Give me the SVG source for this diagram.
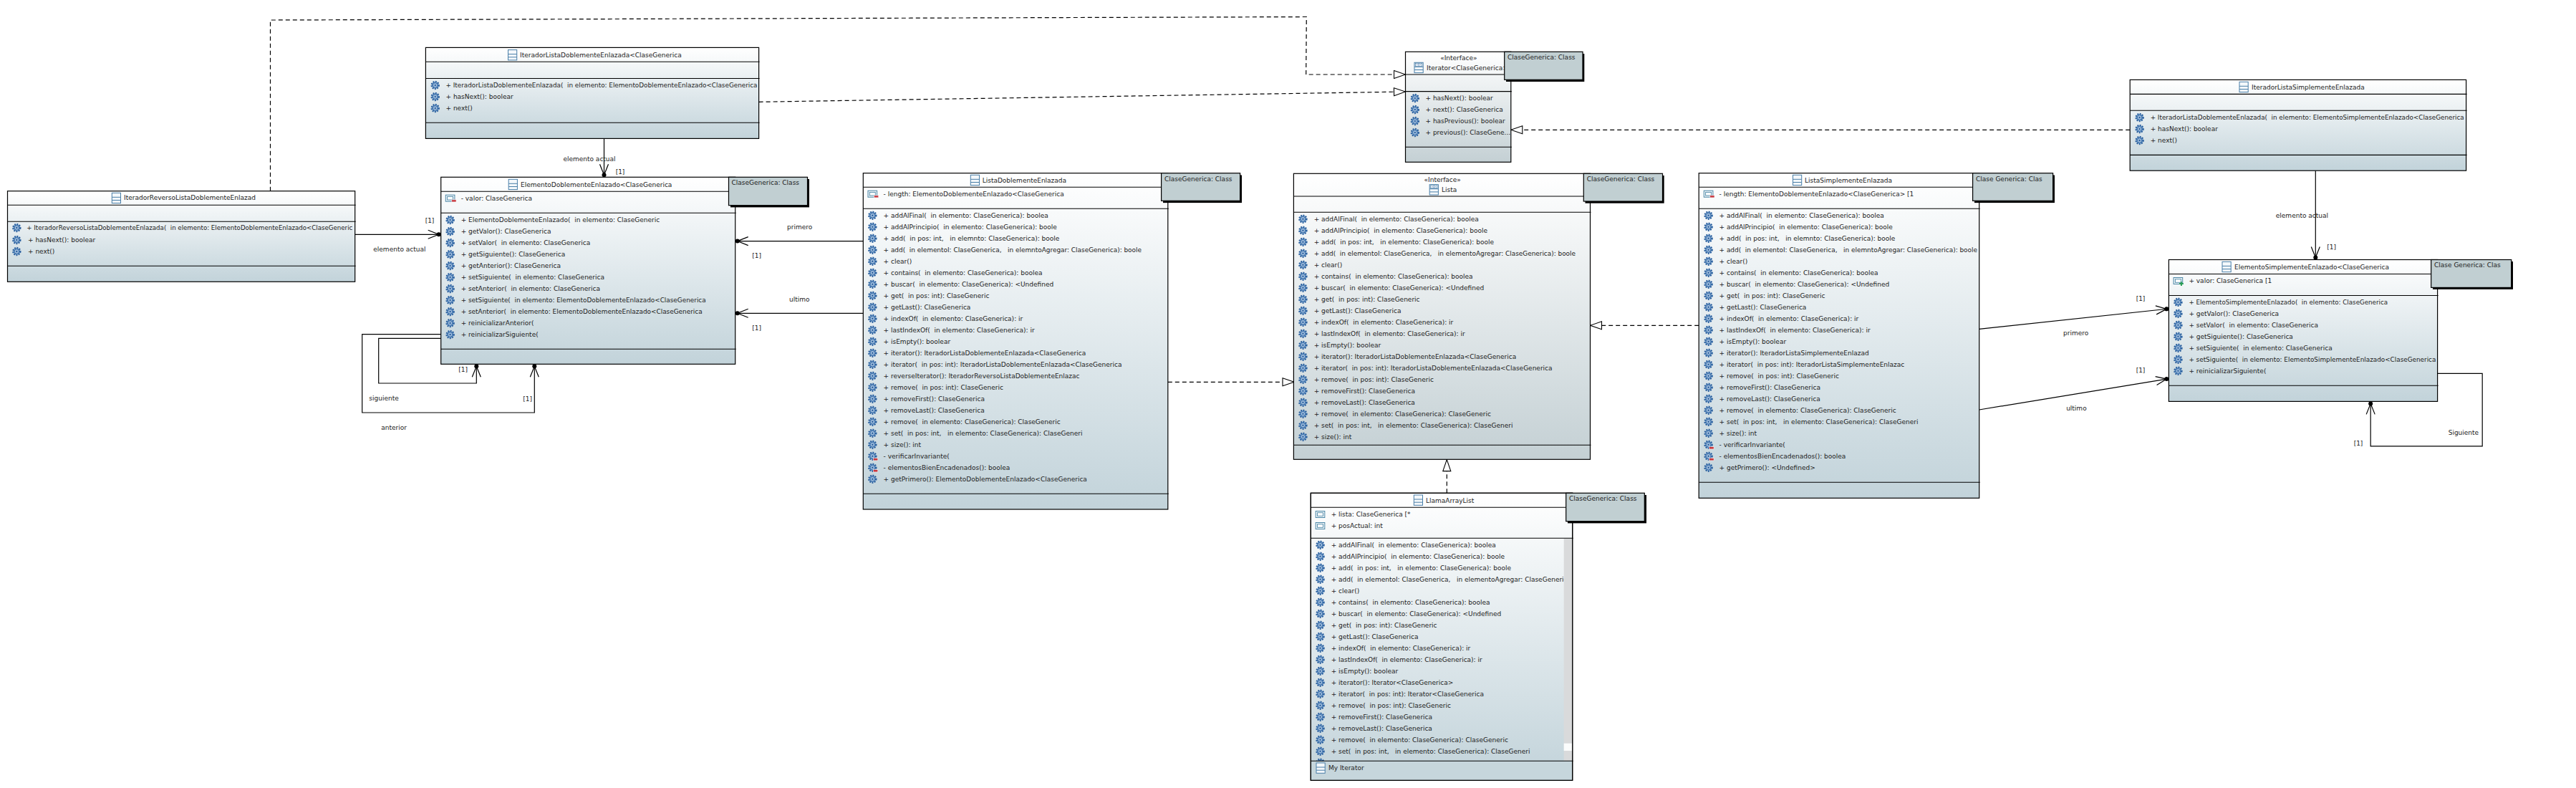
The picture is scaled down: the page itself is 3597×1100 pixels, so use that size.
<svg xmlns="http://www.w3.org/2000/svg" width="3597" height="1100" viewBox="0 0 3597 1100">
<style>
text{font-family:"DejaVu Sans","Liberation Sans",sans-serif;font-size:9px;fill:#222;white-space:pre}
.box{stroke:#000;stroke-width:1.2}
.cls{fill:url(#gc)}
.ifc{fill:url(#gi)}
.sep{stroke:#000;stroke-width:1.1;fill:none}
.note{fill:#c1cfd2;stroke:#000;stroke-width:1.2}
.shadow{fill:#000}
.m{text-anchor:middle}
.con{fill:none;stroke:#000;stroke-width:1.2}
.dash{fill:none;stroke:#000;stroke-width:1.2;stroke-dasharray:6 4}
.as{marker-end:url(#assoc)}
.ge{marker-end:url(#gen)}
</style>
<defs>
<linearGradient id="gc" x1="0" y1="0" x2="0" y2="1"><stop offset="0" stop-color="#ffffff"/><stop offset="1" stop-color="#c2d3da"/></linearGradient>
<linearGradient id="gi" x1="0" y1="0" x2="0" y2="1"><stop offset="0" stop-color="#ffffff"/><stop offset="1" stop-color="#c4d0d4"/></linearGradient>
<marker id="assoc" markerUnits="userSpaceOnUse" markerWidth="24" markerHeight="16" viewBox="0 0 24 16" refX="22" refY="8" orient="auto"><path d="M4,2 L19,8 L4,14" fill="none" stroke="#000" stroke-width="1.2"/><circle cx="19" cy="8" r="3" fill="#000"/></marker>
<marker id="gen" markerUnits="userSpaceOnUse" markerWidth="18" markerHeight="14" viewBox="0 0 18 14" refX="17" refY="7" orient="auto"><path d="M1,1.5 L17,7 L1,12.5 Z" fill="#fff" stroke="#000" stroke-width="1.1"/></marker>
<g id="g"><circle r="5" fill="#7ba3cc" stroke="#2a5f9e" stroke-width="2.4" stroke-dasharray="1.8 1.5"/><circle r="3.2" fill="#a9c4e0" stroke="#2f66a6" stroke-width=".9"/><circle r="1.2" fill="#2a5f9e"/></g>
<g id="gp"><use href="#g"/><rect x="1" y="3" width="6.5" height="3.2" fill="#c8363c" stroke="#fff" stroke-width=".5"/></g>
<g id="attr"><rect x="-6.3" y="-4.5" width="12.6" height="9" fill="#f2f7fa" stroke="#4a86a6" stroke-width="1"/><rect x="-4" y="-2.3" width="8" height="4.6" fill="#fff" stroke="#4a86a6" stroke-width=".9"/></g>
<g id="attrp"><use href="#attr"/><rect x="2.2" y="2.2" width="6.2" height="3" fill="#c8363c" stroke="#fff" stroke-width=".5"/></g>
<g id="attrg"><use href="#attr"/><path d="M4.5,1.2 V7 M1.6,4.1 H7.4" stroke="#2a9d57" stroke-width="2" fill="none"/></g>
<g id="ci"><rect width="12.2" height="14.3" fill="#f4f8fb" stroke="#4a7fa8" stroke-width="1"/><path d="M0,6 H12.2 M0,10.2 H12.2" stroke="#4a7fa8" stroke-width="1"/></g>
<g id="ii"><use href="#ci"/><rect x="1.5" y="1" width="9.2" height="4" fill="#fff" stroke="#4a7fa8" stroke-width=".7"/><path d="M6.1,1.5 V4.5 M4.4,3 L3,3 M7.8,3 L9.2,3" stroke="#2a5f9e" stroke-width=".8"/></g>
</defs>

<g id="connectors">
<polyline class="dash ge" points="377.5,266.7 377.5,28 1824.3,23.5 1823.7,104 1962.5,104"/>
<line class="dash ge" x1="1059.6" y1="142.3" x2="1962.5" y2="128"/>
<line class="dash ge" x1="2974.2" y1="181.3" x2="2109.8" y2="181.3"/>
<line class="dash ge" x1="1630.8" y1="533.3" x2="1807" y2="533.3"/>
<line class="dash ge" x1="2372.2" y1="454.3" x2="2220.5" y2="454.3"/>
<line class="dash ge" x1="2020.3" y1="688.3" x2="2020.3" y2="641.6"/>
<line class="con as" x1="843.5" y1="193.4" x2="843.5" y2="247.3"/>
<line class="con as" x1="495.7" y1="327.3" x2="615.7" y2="327.3"/>
<line class="con as" x1="1205.3" y1="336.6" x2="1026.7" y2="336.6"/>
<line class="con as" x1="1205.3" y1="437.3" x2="1026.7" y2="437.3"/>
<polyline class="con as" points="615.7,472.3 528.7,472.3 528.7,535 665.3,535 665.3,508.3"/>
<polyline class="con as" points="615.7,466.7 505.7,466.7 505.7,576 746.3,576 746.3,508.3"/>
<line class="con as" x1="3233.3" y1="238.2" x2="3233.3" y2="362.5"/>
<line class="con as" x1="2763.7" y1="459.3" x2="3028.4" y2="431"/>
<line class="con as" x1="2763.7" y1="572" x2="3028.4" y2="528.6"/>
<polyline class="con as" points="3403.6,521.4 3466.2,521.4 3466.2,622.9 3310.2,622.9 3310.2,560.4"/>
<text class="m" x="823" y="225">elemento actual</text>
<text class="m" x="866" y="243">[1]</text>
<text x="521.3" y="351">elemento actual</text>
<text class="m" x="600" y="311">[1]</text>
<text class="m" x="1116.7" y="320">primero</text>
<text class="m" x="1056.7" y="360">[1]</text>
<text class="m" x="1116.3" y="421">ultimo</text>
<text class="m" x="1056.7" y="461">[1]</text>
<text class="m" x="646.7" y="518.5">[1]</text>
<text x="515.3" y="559">siguiente</text>
<text class="m" x="736.7" y="560">[1]</text>
<text x="532.3" y="600">anterior</text>
<text x="3177.8" y="304">elemento actual</text>
<text class="m" x="3255.6" y="348">[1]</text>
<text class="m" x="2898.7" y="468">primero</text>
<text class="m" x="2899.4" y="573">ultimo</text>
<text class="m" x="2989" y="420">[1]</text>
<text class="m" x="2989" y="520">[1]</text>
<text x="3418.7" y="607">Siguiente</text>
<text class="m" x="3293" y="622">[1]</text>
</g>

<g id="IteradorReversoListaDoblementeEnlazada">
<rect class="box cls" x="10.5" y="266.7" width="485.2" height="126.6"/>
<path class="sep" d="M10.5,286.3 H496.7 M10.5,309.3 H496.7 M10.5,371.3 H496.7"/>
<use href="#ci" x="156.3" y="269.3"/><text x="173" y="279">IteradorReversoListaDoblementeEnlazad</text>
<use href="#g" x="23.3" y="318"/><text x="37.3" y="320.7" textLength="455" lengthAdjust="spacingAndGlyphs">+ IteradorReversoListaDoblementeEnlazada(  in elemento: ElementoDoblementeEnlazado&lt;ClaseGeneric</text>
<use href="#g" x="23.3" y="335"/><text x="39" y="337.7">+ hasNext(): boolear</text>
<use href="#g" x="23.3" y="351"/><text x="39" y="353.7">+ next()</text>
</g>

<g id="IteradorListaDoblementeEnlazada">
<rect class="box cls" x="594.4" y="66.4" width="465.2" height="127"/>
<path class="sep" d="M594.4,86.2 H1060.6 M594.4,109.5 H1060.6 M594.4,171.2 H1060.6"/>
<use href="#ci" x="709.5" y="69.6"/><text x="726" y="80">IteradorListaDoblementeEnlazada&lt;ClaseGenerica</text>
<use href="#g" x="607.7" y="119"/><text x="622.5" y="122" textLength="435" lengthAdjust="spacingAndGlyphs">+ IteradorListaDoblementeEnlazada(  in elemento: ElementoDoblementeEnlazado&lt;ClaseGenerica</text>
<use href="#g" x="607.7" y="135"/><text x="622.5" y="138">+ hasNext(): boolear</text>
<use href="#g" x="607.7" y="151"/><text x="622.5" y="154">+ next()</text>
</g>

<g id="ElementoDoblementeEnlazado">
<rect class="box cls" x="615.7" y="247.3" width="411" height="261"/>
<path class="sep" d="M615.7,267.3 H1017 M615.7,297.3 H1027.7 M615.7,487.3 H1027.7"/>
<use href="#ci" x="710.2" y="250.3"/><text x="727" y="261">ElementoDoblementeEnlazado&lt;ClaseGenerica</text>
<use href="#attrp" x="628.6" y="276.7"/><text x="643.7" y="279.7">- valor: ClaseGenerica</text>
<use href="#g" x="628.6" y="307"/><text x="643.7" y="310">+ ElementoDoblementeEnlazado(  in elemento: ClaseGeneric</text>
<use href="#g" x="628.6" y="323"/><text x="643.7" y="326">+ getValor(): ClaseGenerica</text>
<use href="#g" x="628.6" y="339"/><text x="643.7" y="342">+ setValor(  in elemento: ClaseGenerica</text>
<use href="#g" x="628.6" y="355"/><text x="643.7" y="358">+ getSiguiente(): ClaseGenerica</text>
<use href="#g" x="628.6" y="371"/><text x="643.7" y="374">+ getAnterior(): ClaseGenerica</text>
<use href="#g" x="628.6" y="387"/><text x="643.7" y="390">+ setSiguiente(  in elemento: ClaseGenerica</text>
<use href="#g" x="628.6" y="403"/><text x="643.7" y="406">+ setAnterior(  in elemento: ClaseGenerica</text>
<use href="#g" x="628.6" y="419"/><text x="643.7" y="422" textLength="342" lengthAdjust="spacingAndGlyphs">+ setSiguiente(  in elemento: ElementoDoblementeEnlazado&lt;ClaseGenerica</text>
<use href="#g" x="628.6" y="435"/><text x="643.7" y="438" textLength="337" lengthAdjust="spacingAndGlyphs">+ setAnterior(  in elemento: ElementoDoblementeEnlazado&lt;ClaseGenerica</text>
<use href="#g" x="628.6" y="451"/><text x="643.7" y="454">+ reinicializarAnterior(</text>
<use href="#g" x="628.6" y="467"/><text x="643.7" y="470">+ reinicializarSiguiente(</text>
<rect class="shadow" x="1020" y="250" width="110" height="39.4"/>
<rect class="note" x="1017.5" y="247.3" width="110" height="39.4"/>
<text x="1021.5" y="258">ClaseGenerica: Class</text>
</g>

<g id="ListaDoblementeEnlazada">
<rect class="box cls" x="1205.3" y="241.7" width="425.5" height="469.3"/>
<path class="sep" d="M1205.3,261.3 H1622 M1205.3,291.3 H1631.8 M1205.3,689.3 H1631.8"/>
<use href="#ci" x="1355.3" y="244.3"/><text x="1371.7" y="255">ListaDoblementeEnlazada</text>
<use href="#attrp" x="1218.3" y="270.7"/><text x="1233.6" y="273.7">- length: ElementoDoblementeEnlazado&lt;ClaseGenerica</text>
<use href="#g" x="1218.3" y="300.7"/><text x="1233.6" y="303.7">+ addAlFinal(  in elemento: ClaseGenerica): boolea</text>
<use href="#g" x="1218.3" y="316.7"/><text x="1233.6" y="319.7">+ addAlPrincipio(  in elemento: ClaseGenerica): boole</text>
<use href="#g" x="1218.3" y="332.7"/><text x="1233.6" y="335.7">+ add(  in pos: int,   in elemnto: ClaseGenerica): boole</text>
<use href="#g" x="1218.3" y="348.7"/><text x="1233.6" y="351.7" textLength="360.4" lengthAdjust="spacingAndGlyphs">+ add(  in elementoI: ClaseGenerica,   in elemntoAgregar: ClaseGenerica): boole</text>
<use href="#g" x="1218.3" y="364.7"/><text x="1233.6" y="367.7">+ clear()</text>
<use href="#g" x="1218.3" y="380.7"/><text x="1233.6" y="383.7">+ contains(  in elemento: ClaseGenerica): boolea</text>
<use href="#g" x="1218.3" y="396.7"/><text x="1233.6" y="399.7">+ buscar(  in elemento: ClaseGenerica): &lt;Undefined</text>
<use href="#g" x="1218.3" y="412.7"/><text x="1233.6" y="415.7">+ get(  in pos: int): ClaseGeneric</text>
<use href="#g" x="1218.3" y="428.7"/><text x="1233.6" y="431.7">+ getLast(): ClaseGenerica</text>
<use href="#g" x="1218.3" y="444.7"/><text x="1233.6" y="447.7">+ indexOf(  in elemento: ClaseGenerica): ir</text>
<use href="#g" x="1218.3" y="460.7"/><text x="1233.6" y="463.7">+ lastIndexOf(  in elemento: ClaseGenerica): ir</text>
<use href="#g" x="1218.3" y="476.7"/><text x="1233.6" y="479.7">+ isEmpty(): boolear</text>
<use href="#g" x="1218.3" y="492.7"/><text x="1233.6" y="495.7">+ iterator(): IteradorListaDoblementeEnlazada&lt;ClaseGenerica</text>
<use href="#g" x="1218.3" y="508.7"/><text x="1233.6" y="511.7">+ iterator(  in pos: int): IteradorListaDoblementeEnlazada&lt;ClaseGenerica</text>
<use href="#g" x="1218.3" y="524.7"/><text x="1233.6" y="527.7">+ reverseIterator(): IteradorReversoListaDoblementeEnlazac</text>
<use href="#g" x="1218.3" y="540.7"/><text x="1233.6" y="543.7">+ remove(  in pos: int): ClaseGeneric</text>
<use href="#g" x="1218.3" y="556.7"/><text x="1233.6" y="559.7">+ removeFirst(): ClaseGenerica</text>
<use href="#g" x="1218.3" y="572.7"/><text x="1233.6" y="575.7">+ removeLast(): ClaseGenerica</text>
<use href="#g" x="1218.3" y="588.7"/><text x="1233.6" y="591.7">+ remove(  in elemento: ClaseGenerica): ClaseGeneric</text>
<use href="#g" x="1218.3" y="604.7"/><text x="1233.6" y="607.7">+ set(  in pos: int,   in elemento: ClaseGenerica): ClaseGeneri</text>
<use href="#g" x="1218.3" y="620.7"/><text x="1233.6" y="623.7">+ size(): int</text>
<use href="#gp" x="1218.3" y="636.7"/><text x="1233.6" y="639.7">- verificarInvariante(</text>
<use href="#gp" x="1218.3" y="652.7"/><text x="1233.6" y="655.7">- elementosBienEncadenados(): boolea</text>
<use href="#g" x="1218.3" y="668.7"/><text x="1233.6" y="671.7">+ getPrimero(): ElementoDoblementeEnlazado&lt;ClaseGenerica</text>
<rect class="shadow" x="1624" y="244.5" width="110" height="38.6"/>
<rect class="note" x="1621.6" y="241.7" width="110" height="38.6"/>
<text x="1626" y="252.5">ClaseGenerica: Class</text>
</g>

<g id="Lista">
<rect class="box ifc" x="1806.4" y="242.3" width="414.1" height="399"/>
<path class="sep" d="M1806.4,274 H2212 M1806.4,296.3 H2221.5 M1806.4,621.3 H2221.5"/>
<text class="m" x="2014.2" y="254">«Interface»</text>
<use href="#ii" x="1996.2" y="257.7"/><text x="2013" y="268">Lista</text>
<use href="#g" x="1819.4" y="305.7"/><text x="1834.7" y="308.7">+ addAlFinal(  in elemento: ClaseGenerica): boolea</text>
<use href="#g" x="1819.4" y="321.7"/><text x="1834.7" y="324.7">+ addAlPrincipio(  in elemento: ClaseGenerica): boole</text>
<use href="#g" x="1819.4" y="337.7"/><text x="1834.7" y="340.7">+ add(  in pos: int,   in elemento: ClaseGenerica): boole</text>
<use href="#g" x="1819.4" y="353.7"/><text x="1834.7" y="356.7" textLength="365.3" lengthAdjust="spacingAndGlyphs">+ add(  in elementoI: ClaseGenerica,   in elementoAgregar: ClaseGenerica): boole</text>
<use href="#g" x="1819.4" y="369.7"/><text x="1834.7" y="372.7">+ clear()</text>
<use href="#g" x="1819.4" y="385.7"/><text x="1834.7" y="388.7">+ contains(  in elemento: ClaseGenerica): boolea</text>
<use href="#g" x="1819.4" y="401.7"/><text x="1834.7" y="404.7">+ buscar(  in elemento: ClaseGenerica): &lt;Undefined</text>
<use href="#g" x="1819.4" y="417.7"/><text x="1834.7" y="420.7">+ get(  in pos: int): ClaseGeneric</text>
<use href="#g" x="1819.4" y="433.7"/><text x="1834.7" y="436.7">+ getLast(): ClaseGenerica</text>
<use href="#g" x="1819.4" y="449.7"/><text x="1834.7" y="452.7">+ indexOf(  in elemento: ClaseGenerica): ir</text>
<use href="#g" x="1819.4" y="465.7"/><text x="1834.7" y="468.7">+ lastIndexOf(  in elemento: ClaseGenerica): ir</text>
<use href="#g" x="1819.4" y="481.7"/><text x="1834.7" y="484.7">+ isEmpty(): boolear</text>
<use href="#g" x="1819.4" y="497.7"/><text x="1834.7" y="500.7">+ iterator(): IteradorListaDoblementeEnlazada&lt;ClaseGenerica</text>
<use href="#g" x="1819.4" y="513.7"/><text x="1834.7" y="516.7">+ iterator(  in pos: int): IteradorListaDoblementeEnlazada&lt;ClaseGenerica</text>
<use href="#g" x="1819.4" y="529.7"/><text x="1834.7" y="532.7">+ remove(  in pos: int): ClaseGeneric</text>
<use href="#g" x="1819.4" y="545.7"/><text x="1834.7" y="548.7">+ removeFirst(): ClaseGenerica</text>
<use href="#g" x="1819.4" y="561.7"/><text x="1834.7" y="564.7">+ removeLast(): ClaseGenerica</text>
<use href="#g" x="1819.4" y="577.7"/><text x="1834.7" y="580.7">+ remove(  in elemento: ClaseGenerica): ClaseGeneric</text>
<use href="#g" x="1819.4" y="593.7"/><text x="1834.7" y="596.7">+ set(  in pos: int,   in elemento: ClaseGenerica): ClaseGeneri</text>
<use href="#g" x="1819.4" y="609.7"/><text x="1834.7" y="612.7">+ size(): int</text>
<rect class="shadow" x="2213.5" y="245" width="110.2" height="38.7"/>
<rect class="note" x="2211.3" y="242.3" width="110.2" height="38.7"/>
<text x="2215.8" y="253">ClaseGenerica: Class</text>
</g>

<g id="ListaSimplementeEnlazada">
<rect class="box cls" x="2372.2" y="241.7" width="391.5" height="453.6"/>
<path class="sep" d="M2372.2,261.3 H2755 M2372.2,291.3 H2764.7 M2372.2,673.3 H2764.7"/>
<use href="#ci" x="2503.5" y="244.3"/><text x="2520" y="255">ListaSimplementeEnlazada</text>
<use href="#attrp" x="2385.6" y="270.7"/><text x="2400.6" y="273.7">- length: ElementoDoblementeEnlazado&lt;ClaseGenerica&gt; [1</text>
<use href="#g" x="2385.6" y="300.7"/><text x="2400.6" y="303.7">+ addAlFinal(  in elemento: ClaseGenerica): boolea</text>
<use href="#g" x="2385.6" y="316.7"/><text x="2400.6" y="319.7">+ addAlPrincipio(  in elemento: ClaseGenerica): boole</text>
<use href="#g" x="2385.6" y="332.7"/><text x="2400.6" y="335.7">+ add(  in pos: int,   in elemnto: ClaseGenerica): boole</text>
<use href="#g" x="2385.6" y="348.7"/><text x="2400.6" y="351.7" textLength="360.4" lengthAdjust="spacingAndGlyphs">+ add(  in elementoI: ClaseGenerica,   in elemntoAgregar: ClaseGenerica): boole</text>
<use href="#g" x="2385.6" y="364.7"/><text x="2400.6" y="367.7">+ clear()</text>
<use href="#g" x="2385.6" y="380.7"/><text x="2400.6" y="383.7">+ contains(  in elemento: ClaseGenerica): boolea</text>
<use href="#g" x="2385.6" y="396.7"/><text x="2400.6" y="399.7">+ buscar(  in elemento: ClaseGenerica): &lt;Undefined</text>
<use href="#g" x="2385.6" y="412.7"/><text x="2400.6" y="415.7">+ get(  in pos: int): ClaseGeneric</text>
<use href="#g" x="2385.6" y="428.7"/><text x="2400.6" y="431.7">+ getLast(): ClaseGenerica</text>
<use href="#g" x="2385.6" y="444.7"/><text x="2400.6" y="447.7">+ indexOf(  in elemento: ClaseGenerica): ir</text>
<use href="#g" x="2385.6" y="460.7"/><text x="2400.6" y="463.7">+ lastIndexOf(  in elemento: ClaseGenerica): ir</text>
<use href="#g" x="2385.6" y="476.7"/><text x="2400.6" y="479.7">+ isEmpty(): boolear</text>
<use href="#g" x="2385.6" y="492.7"/><text x="2400.6" y="495.7">+ iterator(): IteradorListaSimplementeEnlazad</text>
<use href="#g" x="2385.6" y="508.7"/><text x="2400.6" y="511.7">+ iterator(  in pos: int): IteradorListaSimplementeEnlazac</text>
<use href="#g" x="2385.6" y="524.7"/><text x="2400.6" y="527.7">+ remove(  in pos: int): ClaseGeneric</text>
<use href="#g" x="2385.6" y="540.7"/><text x="2400.6" y="543.7">+ removeFirst(): ClaseGenerica</text>
<use href="#g" x="2385.6" y="556.7"/><text x="2400.6" y="559.7">+ removeLast(): ClaseGenerica</text>
<use href="#g" x="2385.6" y="572.7"/><text x="2400.6" y="575.7">+ remove(  in elemento: ClaseGenerica): ClaseGeneric</text>
<use href="#g" x="2385.6" y="588.7"/><text x="2400.6" y="591.7">+ set(  in pos: int,   in elemento: ClaseGenerica): ClaseGeneri</text>
<use href="#g" x="2385.6" y="604.7"/><text x="2400.6" y="607.7">+ size(): int</text>
<use href="#gp" x="2385.6" y="620.7"/><text x="2400.6" y="623.7">- verificarInvariante(</text>
<use href="#gp" x="2385.6" y="636.7"/><text x="2400.6" y="639.7">- elementosBienEncadenados(): boolea</text>
<use href="#g" x="2385.6" y="652.7"/><text x="2400.6" y="655.7">+ getPrimero(): &lt;Undefined&gt;</text>
<rect class="shadow" x="2757" y="244.5" width="112" height="38.6"/>
<rect class="note" x="2754.6" y="241.7" width="112" height="38.6"/>
<text x="2759" y="252.5">Clase Generica: Clas</text>
</g>

<g id="LlamaArrayList">
<rect class="box cls" x="1830.3" y="688.3" width="365.4" height="401"/>
<use href="#ci" x="1974.3" y="691"/><text x="1991" y="702">LlamaArrayList</text>
<use href="#attr" x="1843.5" y="718"/><text x="1858.7" y="720.7">+ lista: ClaseGenerica [*</text>
<use href="#attr" x="1843.5" y="734"/><text x="1858.7" y="736.7">+ posActual: int</text>
<use href="#g" x="1843.5" y="760.7"/><text x="1858.7" y="763.7">+ addAlFinal(  in elemento: ClaseGenerica): boolea</text>
<use href="#g" x="1843.5" y="776.7"/><text x="1858.7" y="779.7">+ addAlPrincipio(  in elemento: ClaseGenerica): boole</text>
<use href="#g" x="1843.5" y="792.7"/><text x="1858.7" y="795.7">+ add(  in pos: int,   in elemento: ClaseGenerica): boole</text>
<use href="#g" x="1843.5" y="808.7"/><text x="1858.7" y="811.7">+ add(  in elementoI: ClaseGenerica,   in elementoAgregar: ClaseGeneric</text>
<use href="#g" x="1843.5" y="824.7"/><text x="1858.7" y="827.7">+ clear()</text>
<use href="#g" x="1843.5" y="840.7"/><text x="1858.7" y="843.7">+ contains(  in elemento: ClaseGenerica): boolea</text>
<use href="#g" x="1843.5" y="856.7"/><text x="1858.7" y="859.7">+ buscar(  in elemento: ClaseGenerica): &lt;Undefined</text>
<use href="#g" x="1843.5" y="872.7"/><text x="1858.7" y="875.7">+ get(  in pos: int): ClaseGeneric</text>
<use href="#g" x="1843.5" y="888.7"/><text x="1858.7" y="891.7">+ getLast(): ClaseGenerica</text>
<use href="#g" x="1843.5" y="904.7"/><text x="1858.7" y="907.7">+ indexOf(  in elemento: ClaseGenerica): ir</text>
<use href="#g" x="1843.5" y="920.7"/><text x="1858.7" y="923.7">+ lastIndexOf(  in elemento: ClaseGenerica): ir</text>
<use href="#g" x="1843.5" y="936.7"/><text x="1858.7" y="939.7">+ isEmpty(): boolear</text>
<use href="#g" x="1843.5" y="952.7"/><text x="1858.7" y="955.7">+ iterator(): Iterator&lt;ClaseGenerica&gt;</text>
<use href="#g" x="1843.5" y="968.7"/><text x="1858.7" y="971.7">+ iterator(  in pos: int): Iterator&lt;ClaseGenerica</text>
<use href="#g" x="1843.5" y="984.7"/><text x="1858.7" y="987.7">+ remove(  in pos: int): ClaseGeneric</text>
<use href="#g" x="1843.5" y="1000.7"/><text x="1858.7" y="1003.7">+ removeFirst(): ClaseGenerica</text>
<use href="#g" x="1843.5" y="1016.7"/><text x="1858.7" y="1019.7">+ removeLast(): ClaseGenerica</text>
<use href="#g" x="1843.5" y="1032.7"/><text x="1858.7" y="1035.7">+ remove(  in elemento: ClaseGenerica): ClaseGeneric</text>
<use href="#g" x="1843.5" y="1048.7"/><text x="1858.7" y="1051.7">+ set(  in pos: int,   in elemento: ClaseGenerica): ClaseGeneri</text>
<use href="#g" x="1843.5" y="1064.7"/>
<rect x="2183.7" y="751.3" width="12" height="311" fill="#d9dadb"/>
<rect x="2183.7" y="1037.7" width="12" height="10.3" fill="#fbfcfc"/>
<rect x="1830.9" y="1062.3" width="364.2" height="26.4" fill="#c6d6dc"/>
<path class="sep" d="M1830.3,708.3 H2187 M1830.3,751.3 H2196.7 M1830.3,1062.3 H2196.7"/>
<rect x="1830.3" y="688.3" width="365.4" height="401" fill="none" stroke="#000" stroke-width="1.2"/>
<use href="#ci" x="1838" y="1065"/><text x="1855" y="1075">My Iterator</text>
<rect class="shadow" x="2189" y="691" width="110" height="39.4"/>
<rect class="note" x="2186.7" y="688.3" width="109.6" height="39.4"/>
<text x="2191" y="699">ClaseGenerica: Class</text>
</g>

<g id="Iterator">
<rect class="box ifc" x="1962.5" y="72.3" width="147.3" height="154"/>
<path class="sep" d="M1962.5,104 H2101 M1962.5,127.6 H2110.8 M1962.5,205.3 H2110.8"/>
<text class="m" x="2036.8" y="84">«Interface»</text>
<use href="#ii" x="1975" y="87.3"/><text x="1992" y="98">Iterator&lt;ClaseGenerica&gt;</text>
<use href="#g" x="1975.8" y="137"/><text x="1990.5" y="140">+ hasNext(): boolear</text>
<use href="#g" x="1975.8" y="153"/><text x="1990.5" y="156">+ next(): ClaseGenerica</text>
<use href="#g" x="1975.8" y="169"/><text x="1990.5" y="172">+ hasPrevious(): boolear</text>
<use href="#g" x="1975.8" y="185"/><text x="1990.5" y="188">+ previous(): ClaseGene...</text>
<rect class="shadow" x="2103" y="75" width="109.3" height="39"/>
<rect class="note" x="2100.7" y="72.3" width="109.3" height="39"/>
<text x="2105" y="83">ClaseGenerica: Class</text>
</g>

<g id="IteradorListaSimplementeEnlazada">
<rect class="box cls" x="2974.2" y="111.4" width="469.4" height="126.8"/>
<path class="sep" d="M2974.2,131.4 H3444.6 M2974.2,154.3 H3444.6 M2974.2,216.4 H3444.6"/>
<use href="#ci" x="3127" y="114.3"/><text x="3144" y="125">IteradorListaSimplementeEnlazada</text>
<use href="#g" x="2987.6" y="164"/><text x="3002.7" y="167" textLength="438" lengthAdjust="spacingAndGlyphs">+ IteradorListaDoblementeEnlazada(  in elemento: ElementoSimplementeEnlazado&lt;ClaseGenerica</text>
<use href="#g" x="2987.6" y="180"/><text x="3002.7" y="183">+ hasNext(): boolear</text>
<use href="#g" x="2987.6" y="196"/><text x="3002.7" y="199">+ next()</text>
</g>

<g id="ElementoSimplementeEnlazado">
<rect class="box cls" x="3028.4" y="362.5" width="375.2" height="197.9"/>
<path class="sep" d="M3028.4,382.5 H3395 M3028.4,412.5 H3404.6 M3028.4,538.2 H3404.6"/>
<use href="#ci" x="3103" y="365.4"/><text x="3120" y="376">ElementoSimplementeEnlazado&lt;ClaseGenerica</text>
<use href="#attrg" x="3041.4" y="392"/><text x="3056.4" y="395">+ valor: ClaseGenerica [1</text>
<use href="#g" x="3041.4" y="421.8"/><text x="3056.4" y="424.8" textLength="277.6" lengthAdjust="spacingAndGlyphs">+ ElementoSimplementeEnlazado(  in elemento: ClaseGenerica</text>
<use href="#g" x="3041.4" y="437.8"/><text x="3056.4" y="440.8">+ getValor(): ClaseGenerica</text>
<use href="#g" x="3041.4" y="453.8"/><text x="3056.4" y="456.8">+ setValor(  in elemento: ClaseGenerica</text>
<use href="#g" x="3041.4" y="469.8"/><text x="3056.4" y="472.8">+ getSiguiente(): ClaseGenerica</text>
<use href="#g" x="3041.4" y="485.8"/><text x="3056.4" y="488.8">+ setSiguiente(  in elemento: ClaseGenerica</text>
<use href="#g" x="3041.4" y="501.8"/><text x="3056.4" y="504.8" textLength="345" lengthAdjust="spacingAndGlyphs">+ setSiguiente(  in elemento: ElementoSimplementeEnlazado&lt;ClaseGenerica</text>
<use href="#g" x="3041.4" y="517.8"/><text x="3056.4" y="520.8">+ reinicializarSiguiente(</text>
<rect class="shadow" x="3397" y="365" width="112" height="38.9"/>
<rect class="note" x="3394.7" y="362.5" width="112" height="38.9"/>
<text x="3399" y="373">Clase Generica: Clas</text>
</g>
</svg>
